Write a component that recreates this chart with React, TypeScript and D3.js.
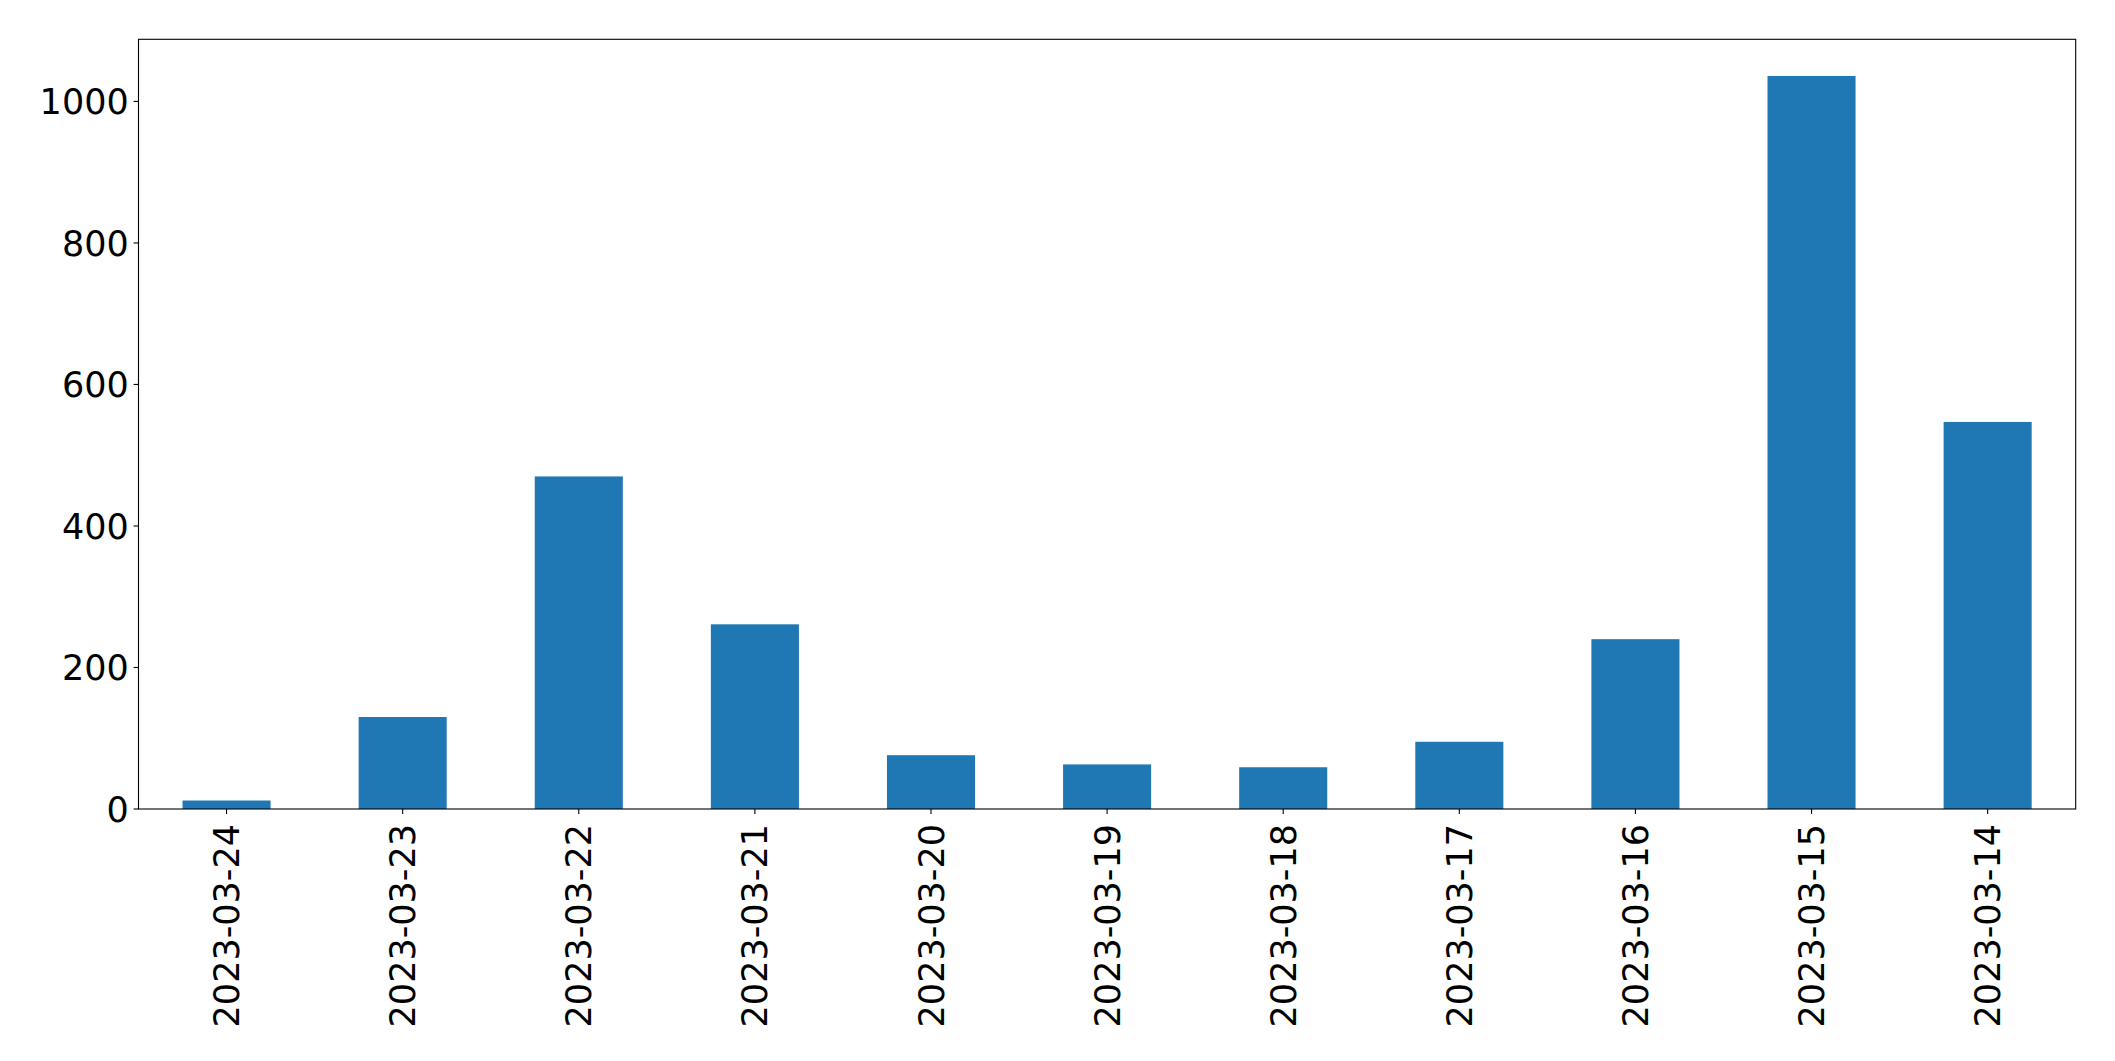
import React from "react";
import * as d3 from "d3";

const categories = [
  "2023-03-24", "2023-03-23", "2023-03-22", "2023-03-21", "2023-03-20", "2023-03-19",
  "2023-03-18", "2023-03-17", "2023-03-16", "2023-03-15", "2023-03-14",
];
const values = [12, 130, 470, 261, 76, 63, 59, 95, 240, 1036, 547];
const yTicks = [0, 200, 400, 600, 800, 1000];

const W = 2115;
const H = 1061;
const M = { left: 138.5, right: 2075.7, top: 39.3, bottom: 809 };
const FONT = "'DejaVu Sans', sans-serif";
const FS = 35;

export default function App() {
  const x = d3.scaleBand<string>().domain(categories).range([M.left, M.right]).padding(0);
  const y = d3.scaleLinear().domain([0, d3.max(values)! * 1.05]).range([M.bottom, M.top]);
  const bw = x.bandwidth() * 0.5;
  return (
    <svg width={W} height={H} style={{ position: "absolute", left: 0, top: 0, background: "#fff" }}>
      <rect x={0} y={0} width={W} height={H} fill="#fff" />
      {categories.map((c, i) => (
        <rect
          key={c}
          x={x(c)! + x.bandwidth() / 2 - bw / 2}
          y={y(values[i])}
          width={bw}
          height={y(0) - y(values[i])}
          fill="#1f77b4"
        />
      ))}
      <rect
        x={M.left}
        y={M.top}
        width={M.right - M.left}
        height={M.bottom - M.top}
        fill="none"
        stroke="#000"
        strokeWidth={1.1}
      />
      {yTicks.map((t) => (
        <g key={t}>
          <line x1={M.left - 4.9} x2={M.left} y1={y(t)} y2={y(t)} stroke="#000" strokeWidth={1.1} />
          <text
            x={M.left - 9.8}
            y={y(t)}
            dy="0.36em"
            textAnchor="end"
            fontFamily={FONT}
            fontSize={FS}
            fill="#000"
          >
            {t}
          </text>
        </g>
      ))}
      {categories.map((c) => {
        const cx = x(c)! + x.bandwidth() / 2;
        return (
          <g key={c}>
            <line x1={cx} x2={cx} y1={M.bottom} y2={M.bottom + 4.9} stroke="#000" strokeWidth={1.1} />
            <text
              transform={`translate(${cx},${M.bottom + 15}) rotate(-90)`}
              dy="0.36em"
              textAnchor="end"
              fontFamily={FONT}
              fontSize={FS}
              fill="#000"
            >
              {c}
            </text>
          </g>
        );
      })}
    </svg>
  );
}
